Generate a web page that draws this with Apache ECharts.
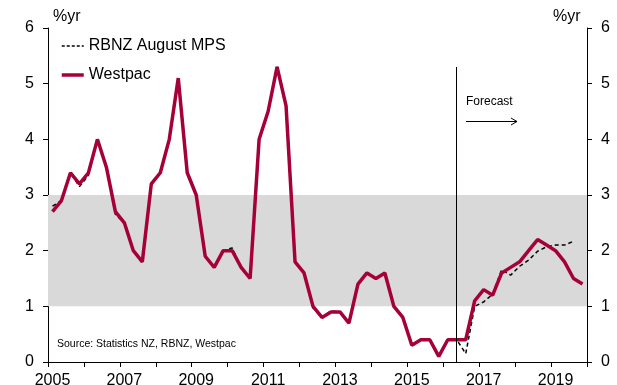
<!DOCTYPE html>
<html>
<head>
<meta charset="utf-8">
<script src="https://cdn.jsdelivr.net/npm/echarts@6/dist/echarts.min.js"></script>
<style>
  html, body { margin: 0; padding: 0; background: #fff; }
  #chart { width: 617px; height: 385px; }
</style>
</head>
<body>
<div id="chart"></div>
<script>
// quarters 2005Q1 .. 2019Q4
const years = [2005, 2006, 2007, 2008, 2009, 2010, 2011, 2012, 2013, 2014, 2015, 2016, 2017, 2018, 2019]
const quarters = []
years.forEach(y => { for (let q = 1; q <= 4; q++) quarters.push(y + 'Q' + q) })

// annual CPI inflation, %yr
const westpac = [
  2.7, 2.9, 3.4, 3.2, 3.4, 4.0, 3.5, 2.7, 2.5, 2.0, 1.8, 3.2,
  3.4, 4.0, 5.1, 3.4, 3.0, 1.9, 1.7, 2.0, 2.0, 1.7, 1.5, 4.0,
  4.5, 5.3, 4.6, 1.8, 1.6, 1.0, 0.8, 0.9, 0.9, 0.7, 1.4, 1.6,
  1.5, 1.6, 1.0, 0.8, 0.3, 0.4, 0.4, 0.1, 0.4, 0.4, 0.4, 1.1,
  1.3, 1.2, 1.6, 1.7, 1.8, 2.0, 2.2, 2.1, 2.0, 1.8, 1.5, 1.4
]
const rbnz = [
  2.8, 2.9, 3.4, 3.15, 3.35, 4.0, 3.5, 2.65, 2.5, 2.0, 1.8, 3.2,
  3.4, 4.0, 5.1, 3.4, 3.0, 1.9, 1.7, 2.0, 2.05, 1.7, 1.5, 4.0,
  4.5, 5.3, 4.6, 1.8, 1.6, 0.97, 0.8, 0.92, 0.9, 0.7, 1.4, 1.6,
  1.5, 1.6, 1.0, 0.8, 0.3, 0.4, 0.4, 0.1, 0.4, 0.4, 0.15, 1.0,
  1.08, 1.22, 1.66, 1.56, 1.72, 1.83, 1.99, 2.07, 2.1, 2.1, 2.17
]
const targetBand = [1, 3]
const forecastStart = '2016Q2'

const font = 'Liberation Sans, Arial, sans-serif'
const red = '#a6003a'

const chart = echarts.init(document.getElementById('chart'))

const yAxisBase = {
  type: 'value',
  min: 0,
  max: 6,
  interval: 1,
  axisLine: { show: true, lineStyle: { color: '#000', width: 1 } },
  axisTick: { show: true, length: 5, lineStyle: { color: '#000' } },
  axisLabel: { color: '#000', fontSize: 16, fontFamily: font, margin: 14 },
  splitLine: { show: false }
}

const option = {
  animation: false,
  backgroundColor: '#fff',
  grid: { left: 48, right: 30, top: 28, bottom: 23, containLabel: false, outerBoundsMode: 'none' },
  legend: {
    orient: 'vertical',
    left: 60,
    top: 37,
    padding: 0,
    itemWidth: 22,
    itemHeight: 14,
    itemGap: 11,
    itemStyle: { opacity: 0 },
    textStyle: { color: '#000', fontSize: 16, fontFamily: font, lineHeight: 18 },
    data: [
      { name: 'RBNZ August MPS', lineStyle: { color: '#000', width: 1.5, type: [3, 2] } },
      { name: 'Westpac', lineStyle: { color: red, width: 3.5 } }
    ]
  },
  xAxis: {
    type: 'category',
    data: quarters,
    boundaryGap: true,
    axisLine: { lineStyle: { color: '#000', width: 1 } },
    axisTick: { show: true, interval: 3, length: 5, lineStyle: { color: '#000' } },
    axisLabel: {
      interval: 7,
      color: '#000',
      fontSize: 16,
      fontFamily: font,
      margin: 11,
      formatter: v => v.slice(0, 4)
    }
  },
  yAxis: [
    Object.assign({}, yAxisBase, { position: 'left' }),
    Object.assign({}, yAxisBase, { position: 'right' })
  ],
  series: [
    {
      name: 'RBNZ August MPS',
      type: 'line',
      data: rbnz,
      symbol: 'none',
      z: 3,
      lineStyle: { color: '#000', width: 1.5, type: [4, 3] },
      itemStyle: { color: '#000' },
      markArea: {
        silent: true,
        itemStyle: { color: '#d9d9d9' },
        data: [[{ yAxis: targetBand[0] }, { yAxis: targetBand[1] }]]
      },
      markLine: {
        silent: true,
        symbol: 'none',
        label: { show: false },
        lineStyle: { color: '#000', width: 1, type: 'solid' },
        data: [[{ coord: [forecastStart, 5.3] }, { coord: [forecastStart, 0] }]]
      }
    },
    {
      name: 'Westpac',
      type: 'line',
      data: westpac,
      symbol: 'none',
      z: 4,
      lineStyle: { color: red, width: 3.5 },
      itemStyle: { color: red }
    }
  ],
  graphic: [
    { type: 'text', left: 53, top: 9, style: { text: '%yr', fill: '#000', font: '16px ' + font } },
    { type: 'text', left: 553, top: 9, style: { text: '%yr', fill: '#000', font: '16px ' + font } },
    { type: 'text', left: 57, top: 339, style: { text: 'Source: Statistics NZ, RBNZ, Westpac', fill: '#000', font: '10.5px ' + font } },
    { type: 'text', left: 466, top: 96, style: { text: 'Forecast', fill: '#000', font: '12px ' + font } },
    { type: 'line', shape: { x1: 466, y1: 121.5, x2: 517, y2: 121.5 }, style: { stroke: '#000', lineWidth: 1 } },
    { type: 'polyline', shape: { points: [[511, 118], [517, 121.5], [511, 125]] }, style: { stroke: '#000', lineWidth: 1, fill: null } }
  ]
}

chart.setOption(option)
</script>
</body>
</html>
